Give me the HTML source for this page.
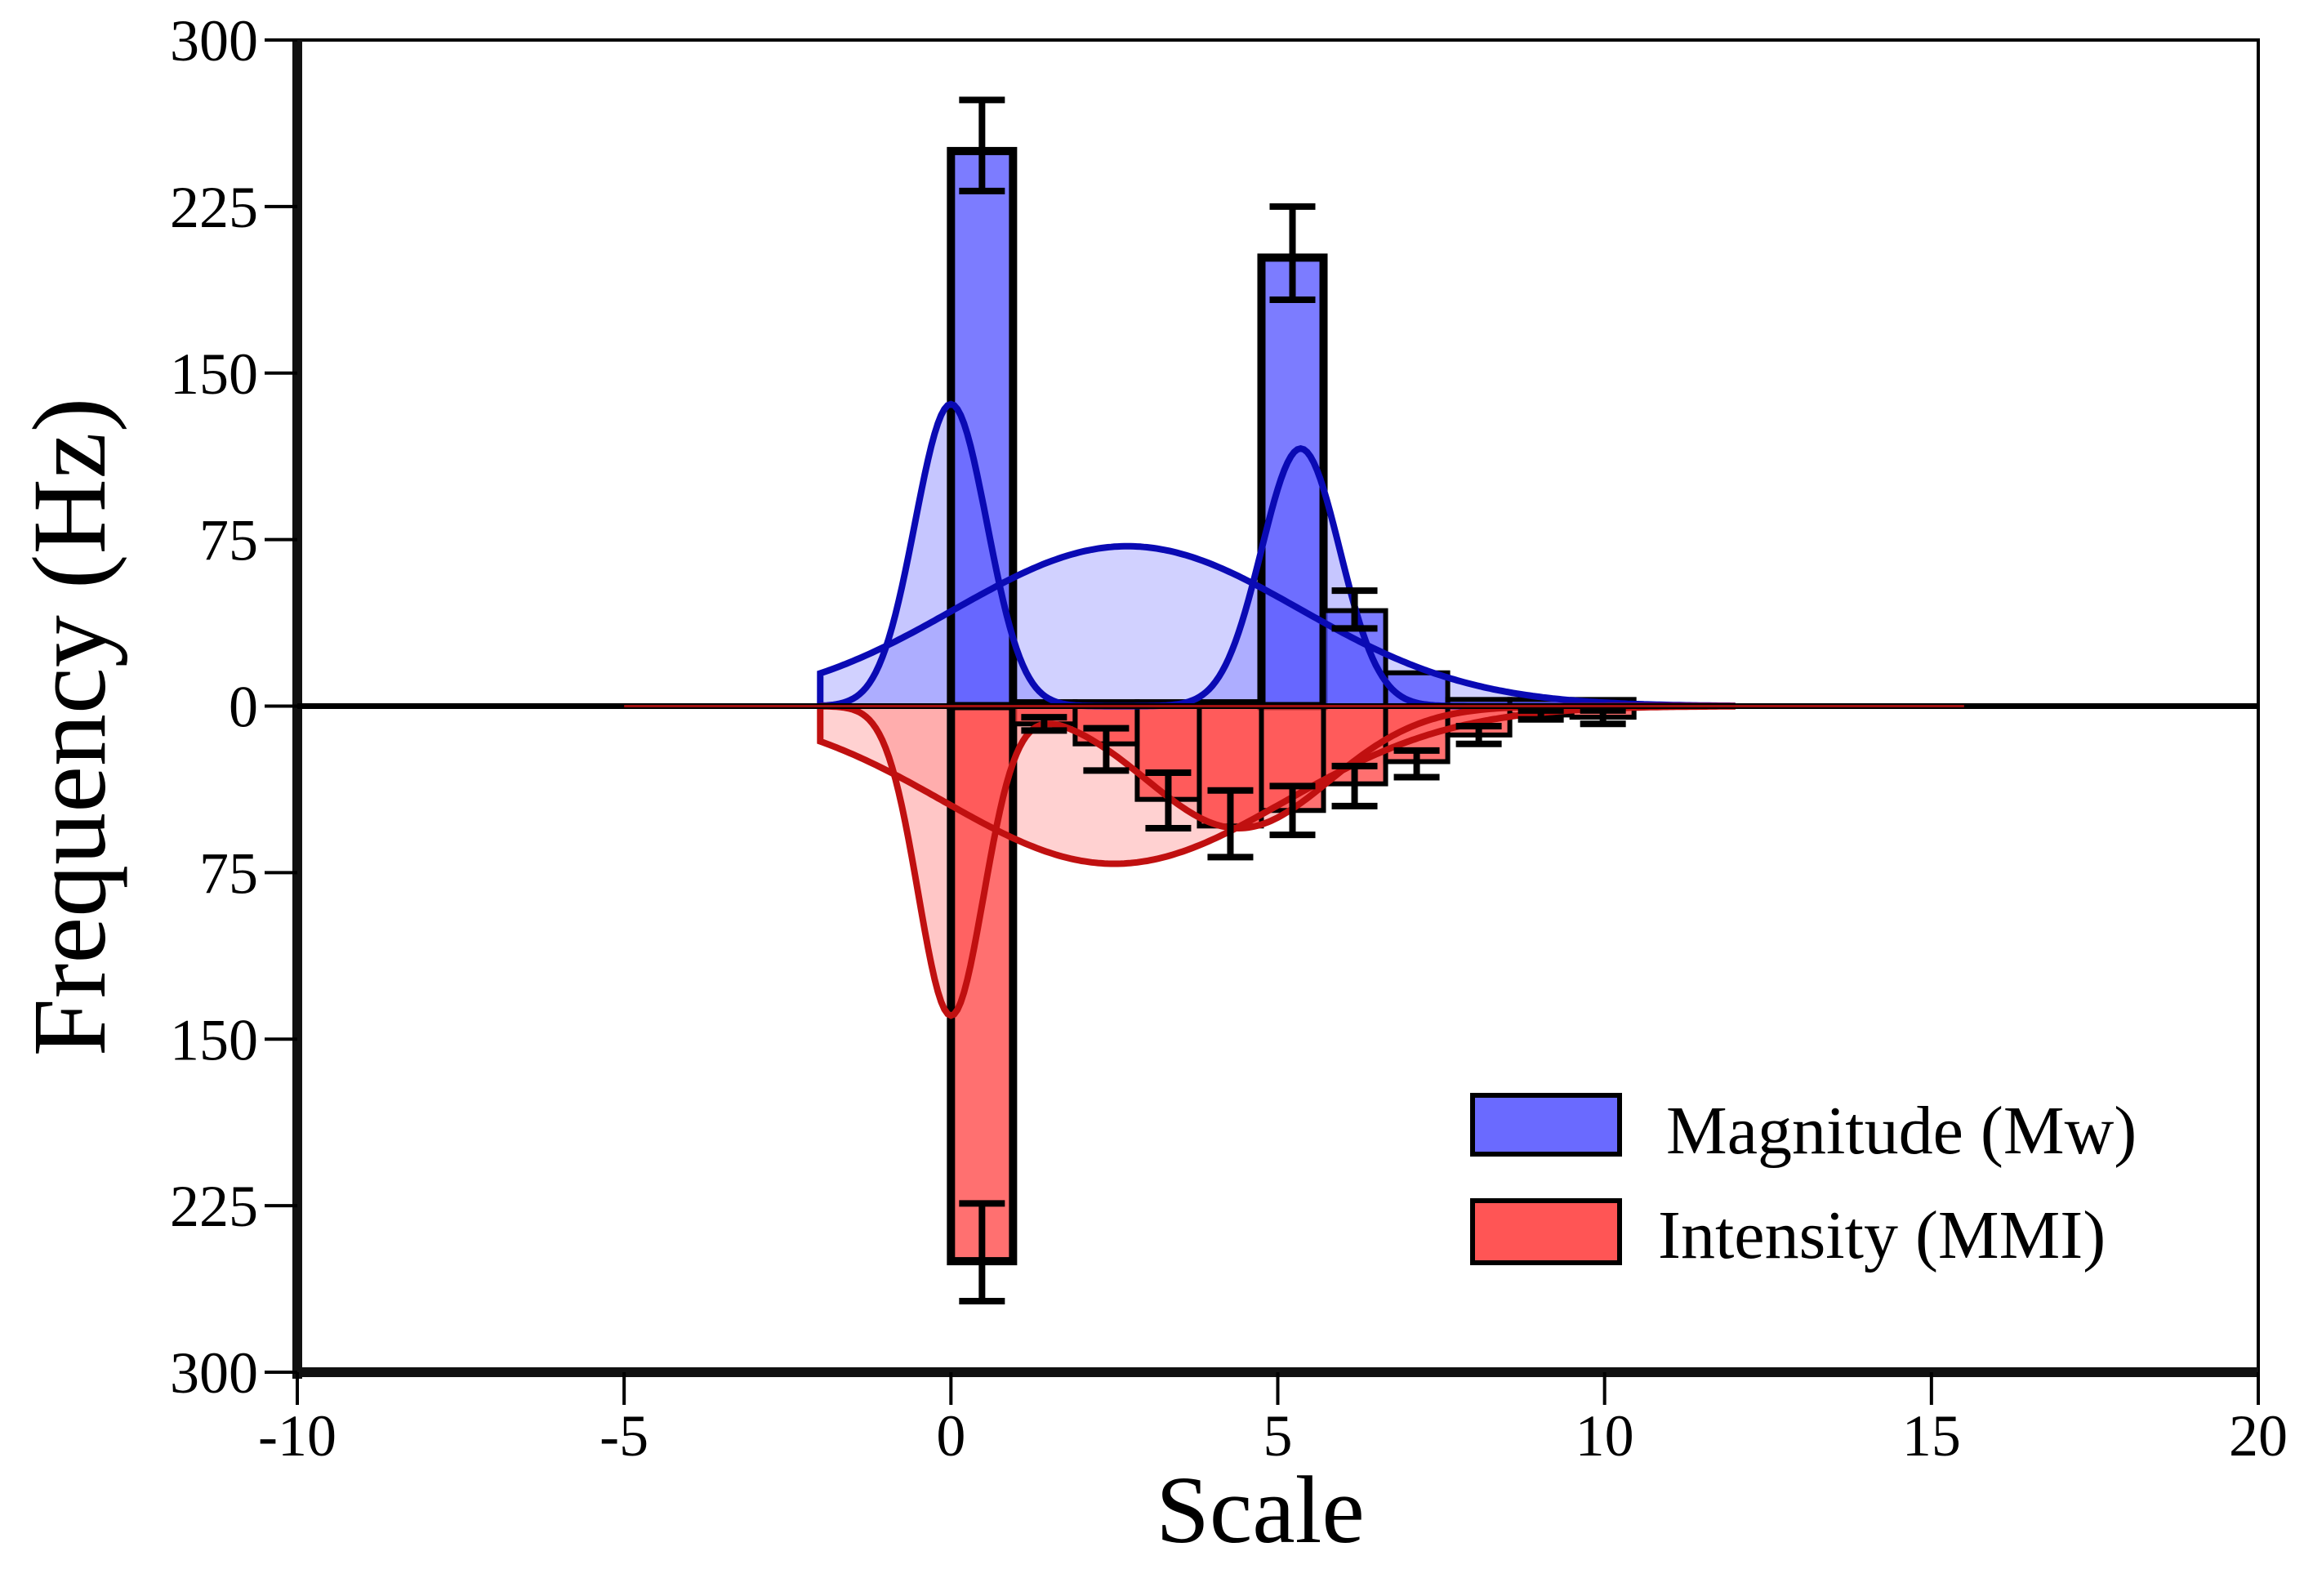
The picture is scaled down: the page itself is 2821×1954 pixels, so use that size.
<!DOCTYPE html>
<html><head><meta charset="utf-8"><style>
html,body{margin:0;padding:0;background:#fff;}
svg{display:block;font-family:"Liberation Serif",serif;}
</style></head><body>
<svg id="chart" width="2821" height="1954" viewBox="0 0 2821 1954" xmlns="http://www.w3.org/2000/svg">
<rect width="2821" height="1954" fill="#fff"/>
<g id="fills"></g>
<g id="bars"></g>
<g id="curves"></g>
<g id="axes"></g>
<g>
<rect x="1803" y="1341" width="180" height="72" fill="#6a6aff" stroke="#000" stroke-width="6"/>
<text x="2040" y="1412" font-size="84">Magnitude (Mw)</text>
<rect x="1803" y="1470" width="180" height="76" fill="#ff5555" stroke="#000" stroke-width="6"/>
<text x="2030" y="1540" font-size="84">Intensity (MMI)</text>
</g>
<text x="1543" y="1888" font-size="118" text-anchor="middle">Scale</text>
<text transform="translate(128,890) rotate(-90)" font-size="128" text-anchor="middle">Frequency (Hz)</text>
</svg>
<script>
const binStarts=[0,0.95,1.9,2.85,3.8,4.75,5.7,6.65,7.6,8.55,9.5];
const magValues=[250,2,2,2,2,202,43,15,3,3,3];
const magErrLo=[232,0,0,0,0,183,35,0,0,0,0];
const magErrHi=[273,0,0,0,0,225,52,0,0,0,0];
const intValues=[250,8,17,42,54,47,35,25,13,4,5];
const intErrLo=[224,5,10,30,38,36,27,20,9,2,2];
const intErrHi=[268,11,29,55,68,58,45,32,17,6,8];
const magPeaks=[{mu:0,h:136,s:0.55},{mu:5.35,h:116,s:0.6}];
const magBroad={mu:2.7,h:72,s:2.64};
const intPeaks=[{mu:0,h:139,s:0.5},{mu:4.4,h:55,s:1.4}];
const intBroad={mu:2.5,h:71,s:2.6};
const xTicks=[-10,-5,0,5,10,15,20];
const yTicks=[300,225,150,75,0,-75,-150,-225,-300];
const binW=0.95;
const NS='http://www.w3.org/2000/svg';
const X0=364,X1=2765,Y0=49,Y1=1680;
function xS(v){return X0+(v+10)/30*(X1-X0);}
function yS(v){return (Y0+Y1)/2-v/300*((Y1-Y0)/2);}
function el(tag,attrs,parent){const e=document.createElementNS(NS,tag);for(const k in attrs)e.setAttribute(k,attrs[k]);parent.appendChild(e);return e;}
const fills=document.getElementById('fills'),bars=document.getElementById('bars'),curves=document.getElementById('curves'),axes=document.getElementById('axes');
function g(p,x){return p.h*Math.exp(-((x-p.mu)**2)/(2*p.s*p.s));}
function curvePath(fn,sign,x0,x1){let d='';for(let x=x0;x<=x1+1e-9;x+=0.05){d+=(d?'L':'M')+xS(x).toFixed(1)+','+yS(sign*fn(x)).toFixed(1);}return d;}
function drawCurve(fn,sign,color,fill,name,startAtBase){
  const x0=-2,x1=12;
  let d=curvePath(fn,sign,x0,x1);
  const fd='M'+xS(x0)+','+yS(0)+'L'+d.slice(1)+'L'+xS(x1)+','+yS(0)+'Z';
  const f=el('path',{d:fd,fill:fill,'fill-opacity':0.45},fills);
  
  
  const ld=startAtBase?('M'+xS(x0)+','+yS(0)+'L'+d.slice(1)):d;
  const l=el('path',{d:ld,fill:'none',stroke:color,'stroke-width':8},curves);
  
  
}
drawCurve(x=>g(magBroad,x),1,'#0a0ab4','#9a9aff','magnitude-broad-curve',true);
drawCurve(x=>g(magPeaks[0],x)+g(magPeaks[1],x),1,'#0a0ab4','#8080ff','magnitude-peaks-curve',false);
drawCurve(x=>g(intBroad,x),-1,'#c01010','#ff9a9a','intensity-broad-curve',true);
drawCurve(x=>g(intPeaks[0],x)+g(intPeaks[1],x),-1,'#c01010','#ff8080','intensity-peaks-curve',false);
function drawBars(vals,lo,hi,sign,fill,name){
  vals.forEach((v,i)=>{
    const xa=xS(binStarts[i]),xb=xS(binStarts[i]+binW);
    const y=yS(sign*v),yb=yS(0);
    const sw=v>100?10:6;
    const r=el('rect',{x:xa,y:Math.min(y,yb),width:xb-xa,height:Math.abs(yb-y),fill:fill,'fill-opacity':0.75,stroke:'#000','stroke-width':sw},bars);
    
    
    if(hi[i]>0){
      const cx=(xa+xb)/2,ya=yS(sign*lo[i]),yc=yS(sign*hi[i]);
      const e=el('path',{d:`M${cx},${ya}L${cx},${yc}M${cx-28},${ya}L${cx+28},${ya}M${cx-28},${yc}L${cx+28},${yc}`,stroke:'#000','stroke-width':8,fill:'none'},curves);
      
      
    }
  });
}
drawBars(magValues,magErrLo,magErrHi,1,'#5050ff','magnitude');
drawBars(intValues,intErrLo,intErrHi,-1,'#ff4040','intensity');
let a=el('rect',{x:X0,y:Y0,width:X1-X0,height:Y1-Y0,fill:'none',stroke:'#000','stroke-width':4},axes);

a=el('line',{x1:X0,y1:Y0,x2:X0,y2:Y1+8,stroke:'#111','stroke-width':12},axes);

a=el('line',{x1:X0,y1:Y1,x2:X1,y2:Y1,stroke:'#111','stroke-width':12},axes);

a=el('line',{x1:X0,y1:yS(0),x2:X1,y2:yS(0),stroke:'#000','stroke-width':7},axes);

a=el('line',{x1:xS(-5),y1:yS(0),x2:xS(15.5),y2:yS(0),stroke:'#a01010','stroke-width':3},axes);

yTicks.forEach(v=>{
  const y=yS(v);
  const t=el('line',{x1:X0-40,y1:y,x2:X0,y2:y,stroke:'#000','stroke-width':4},axes);
  
  const tx=el('text',{x:X0-48,y:y+25,'font-size':72,'text-anchor':'end'},axes);
  tx.textContent=Math.abs(v);
  
});
xTicks.forEach(v=>{
  const x=xS(v);
  const t=el('line',{x1:x,y1:Y1,x2:x,y2:Y1+40,stroke:'#000','stroke-width':4},axes);
  
  const tx=el('text',{x:x,y:1782,'font-size':72,'text-anchor':'middle'},axes);
  tx.textContent=v;
  
});
</script>
</body></html>
